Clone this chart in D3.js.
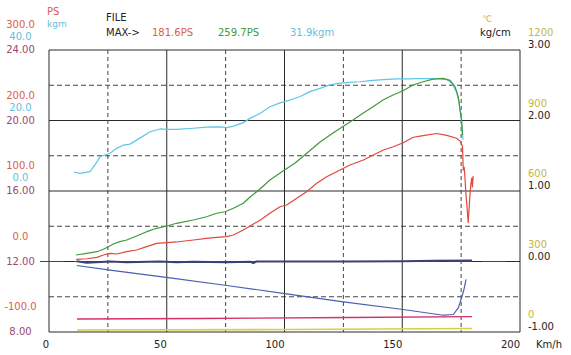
<!DOCTYPE html>
<html><head><meta charset="utf-8">
<script src="https://cdn.jsdelivr.net/npm/d3@7"></script>
<style>
html,body{margin:0;padding:0;background:#fff;}
svg{display:block;}
text{font-family:"DejaVu Sans",sans-serif;font-size:10px;}
</style></head>
<body><svg id="c" width="571" height="355"></svg>
<script>
// ---- tick labels ----
const speedTicks = [0, 50, 100, 150, 200];
const psTicks = [300, 200, 100, 0, -100];
const kgmTicks = [40, 20, 0];
const afrTicks = [24, 20, 16, 12, 8];
const tempTicks = [1200, 900, 600, 300, 0];
const boostTicks = [3, 2, 1, 0, -1];

// ---- series (speed km/h, value) ----
const powerSpeed = [11.5,16.0,20.3,23.1,25.9,28.7,33.0,37.2,41.5,45.7,50.0,54.2,61.3,66.9,71.2,75.5,78.3,82.5,86.8,89.6,93.8,98.1,100.9,105.2,109.4,113.7,117.9,123.6,127.8,133.5,137.7,142.0,146.2,150.4,154.7,158.9,164.6,168.9,173.1,174.8,175.6,175.9,176.3,176.6,177.0,177.6,178.0,178.6,179.1,179.5,179.8,180.1];
const powerPS    = [3.1,3.9,5.9,9.2,11.6,10.6,13.9,16.3,21.0,25.8,26.7,27.7,30.5,32.9,34.3,35.2,37.6,44.7,53.2,58.5,68.4,77.7,80.1,89.6,99.0,110.9,120.3,129.8,136.9,143.9,151.1,158.2,162.8,168.5,176.2,178.6,181.6,178.8,174.8,170.0,162.8,129.8,133.5,120.3,97.2,73.0,55.0,87.2,108.5,118.4,105.7,121.3];

const wheelSpeed = [11.5,16.0,20.3,23.1,25.2,27.3,30.1,33.0,37.2,41.5,45.7,50.0,54.2,61.3,66.9,71.2,74.7,78.3,82.5,85.4,89.6,93.8,99.4,104.5,109.6,115.1,120.6,124.8,129.1,133.3,137.6,141.8,146.1,150.3,154.6,158.8,163.1,167.3,170.3,172.4,173.8,174.5,175.2,175.6];
const wheelPS    = [9.2,11.6,13.9,17.3,21.0,24.8,28.1,30.5,36.2,42.3,47.1,50.4,54.2,58.9,63.5,68.4,70.6,75.5,82.6,91.5,102.8,115.6,128.4,139.7,153.9,169.5,182.3,191.5,200.7,210.2,219.6,229.1,236.2,242.3,250.4,255.0,258.6,259.7,257.0,247.9,233.8,214.9,200.7,179.4];

const torqueSpeed = [10.6,13.2,17.4,19.5,21.7,23.8,25.9,28.7,31.5,34.4,38.6,42.9,47.1,50.0,54.2,61.3,66.9,72.6,75.5,78.3,82.5,85.4,89.6,93.8,98.1,102.3,106.6,110.8,115.1,119.3,123.6,127.8,132.1,136.3,141.9,147.6,153.3,156.1,160.4,163.2,166.0,168.9,170.3,171.7,173.1,174.2,174.8,175.4,175.8];
const torqueKgm   = [5.4,5.0,5.5,7.4,9.7,10.2,10.7,12.1,13.0,13.3,15.0,16.8,17.6,17.5,17.5,17.8,18.1,18.2,18.0,18.4,19.4,20.6,22.0,23.9,25.0,25.8,26.8,28.2,29.1,30.1,30.6,30.8,31.0,31.3,31.6,31.8,31.8,31.9,31.9,31.9,31.8,31.6,31.0,29.8,28.0,24.9,22.0,18.2,14.5];

const boostSpeed = [11.8,16.0,25.9,33.0,47.1,54.2,61.3,75.5,85.4,86.8,88.1,100.9,125.0,150.4,163.2,179.6];
const boostKgc   = [0.004,-0.019,0.0,-0.01,0.0,-0.01,-0.004,-0.01,-0.004,-0.021,0.0,0.0,0.0,0.004,0.01,0.014];

const vacSpeed = [11.8,25.9,51.4,75.5,100.9,125.0,150.4,167.4,171.7,173.8,175.2,176.2,177.1];
const vacKgc   = [-0.057,-0.123,-0.231,-0.340,-0.458,-0.572,-0.681,-0.762,-0.752,-0.657,-0.515,-0.397,-0.255];

const afrSpeed = [11.9,64.1,127.8,179.6];
const afrVal   = [8.74,8.77,8.82,8.87];

const tempSpeed = [11.9,100.0,179.6];
const tempVal   = [8.5,10.6,14.9];

// ---- layout ----
const svg = d3.select("#c");
const L = 49, R = 520, T = 50, B = 332;
const x = d3.scaleLinear().domain([0, 200]).range([L, R]);
const yPS = d3.scaleLinear().domain([-100, 300]).range([B, T]);
const yKgm = d3.scaleLinear().domain([-40, 40]).range([B, T]);
const yAfr = d3.scaleLinear().domain([8, 24]).range([B, T]);
const yTemp = d3.scaleLinear().domain([0, 1200]).range([B, T]);
const yKgc = d3.scaleLinear().domain([-1, 3]).range([B, T]);

const RED = "#e4463a", GREEN = "#3f9a3c", CYAN = "#5ec6e6", NAVY = "#3b4274",
      BLUE = "#4a5fb2", MAG = "#d6306c", YEL = "#d6cf48";
const REDT = "#d8604c", CYANT = "#62c0e0", MAROON = "#9a4a6c", YELT = "#c6b63a";

// grid
const g = svg.append("g");
const hVals = d3.range(-1, 3.01, 0.5);
hVals.forEach(v => {
  const isSolid = Math.abs(v - Math.round(v)) < 1e-6;
  g.append("line").attr("x1", L).attr("x2", R).attr("y1", yKgc(v)).attr("y2", yKgc(v))
    .attr("stroke", isSolid ? "#2a2a2a" : "#444").attr("stroke-width", 1)
    .attr("stroke-dasharray", isSolid ? null : "5,3");
});
const vVals = d3.range(0, 200.01, 25);
vVals.forEach(v => {
  const isSolid = v % 50 === 0;
  g.append("line").attr("x1", x(v)).attr("x2", x(v)).attr("y1", T).attr("y2", B)
    .attr("stroke", isSolid ? "#2a2a2a" : "#444").attr("stroke-width", 1)
    .attr("stroke-dasharray", isSolid ? null : "4,3");
});

// zero reference line for boost
svg.append("line").attr("x1", 40).attr("x2", 517).attr("y1", yKgc(0)).attr("y2", yKgc(0))
  .attr("stroke", NAVY).attr("stroke-width", 1).attr("stroke-dasharray", "24,10");

function draw(xs, ys, yScale, color, w) {
  const pts = xs.map((s, i) => [x(s), yScale(ys[i])]);
  svg.append("path").attr("d", d3.line()(pts)).attr("fill", "none")
    .attr("stroke", color).attr("stroke-width", w).attr("stroke-linejoin", "round");
}
draw(tempSpeed, tempVal, yTemp, YEL, 1.6);
draw(afrSpeed, afrVal, yAfr, MAG, 1.4);
draw(vacSpeed, vacKgc, yKgc, BLUE, 1.2);
draw(boostSpeed, boostKgc, yKgc, NAVY, 2);
draw(torqueSpeed, torqueKgm, yKgm, CYAN, 1.2);
draw(wheelSpeed, wheelPS, yPS, GREEN, 1.2);
draw(powerSpeed, powerPS, yPS, RED, 1.2);

// left labels
const LX = 20.5;
psTicks.forEach(v => {
  svg.append("text").attr("x", LX).attr("y", yPS(v) - 25).attr("text-anchor", "middle")
    .attr("dominant-baseline", "middle").attr("fill", REDT).text(v.toFixed(1));
});
kgmTicks.forEach(v => {
  svg.append("text").attr("x", LX).attr("y", yKgm(v) - 13).attr("text-anchor", "middle")
    .attr("dominant-baseline", "middle").attr("fill", CYANT).text(v.toFixed(1));
});
afrTicks.forEach(v => {
  svg.append("text").attr("x", LX).attr("y", yAfr(v)).attr("text-anchor", "middle")
    .attr("dominant-baseline", "middle").attr("fill", MAROON).text(v.toFixed(2));
});
// right labels
tempTicks.forEach(v => {
  svg.append("text").attr("x", 528).attr("y", yTemp(v) - 17)
    .attr("dominant-baseline", "middle").attr("fill", YELT).text(String(v));
});
boostTicks.forEach(v => {
  svg.append("text").attr("x", 528).attr("y", yKgc(v) - 5)
    .attr("dominant-baseline", "middle").attr("fill", "#222").text(v.toFixed(2));
});
// x labels
speedTicks.forEach(v => {
  svg.append("text").attr("x", x(v)).attr("y", 345).attr("text-anchor", "end")
    .attr("dominant-baseline", "middle").attr("fill", "#222").text(String(v));
});
svg.append("text").attr("x", 536).attr("y", 345).attr("dominant-baseline", "middle").attr("fill", "#222").text("Km/h");

// header
const hdr = (tx, xx, yy, col, size) => svg.append("text").attr("x", xx).attr("y", yy)
  .attr("dominant-baseline", "middle").attr("fill", col).style("font-size", (size || 10) + "px").text(tx);
hdr("PS", 47, 12, REDT);
hdr("kgm", 47, 24, CYANT, 9);
hdr("FILE", 106, 18, "#222");
hdr("MAX->", 106, 33, "#222");
hdr("181.6PS", 152, 33, REDT);
hdr("259.7PS", 218, 33, GREEN);
hdr("31.9kgm", 290, 33, CYANT);
hdr("kg/cm", 480, 33, "#222");
hdr("℃", 482, 19, YELT, 9);
</script></body></html>
